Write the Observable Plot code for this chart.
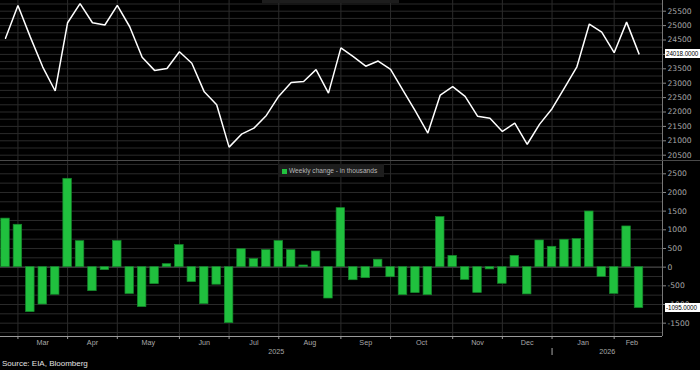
<!DOCTYPE html>
<html><head><meta charset="utf-8">
<script src="https://cdn.jsdelivr.net/npm/d3@7"></script>
<script src="https://cdn.jsdelivr.net/npm/@observablehq/plot@0.6"></script>
<style>
html,body{margin:0;padding:0;background:#000;}
#wrap{position:relative;width:700px;height:370px;background:#000;overflow:hidden;font-family:"Liberation Sans",Arial,sans-serif;}
#wrap svg{display:block;}
.sep{height:1px;background:#4a4a4a;}
.legend{position:absolute;left:278px;top:164px;width:106px;height:13px;background:#1d1d1d;color:#b8b8b8;font-size:6.6px;line-height:13px;white-space:nowrap;}
.legend i{position:absolute;left:4px;top:4.5px;width:5px;height:5px;background:#22c23f;}
.legend span{position:absolute;left:11px;top:0;}
.toplegend{position:absolute;left:262px;top:0;width:137px;height:3px;background:#1d1d1d;}
.vlabel{position:absolute;left:665px;height:9px;line-height:9px;width:35px;background:#fff;color:#000;font-size:6.3px;letter-spacing:-0.1px;text-align:left;padding-left:1px;box-sizing:border-box;white-space:nowrap;overflow:hidden;}
.vlabel:before{content:"";position:absolute;left:-3px;top:0;border-top:4.5px solid transparent;border-bottom:4.5px solid transparent;border-right:3px solid #fff;}
.vwrap{position:absolute;left:662px;height:9px;width:38px;}
.source{position:absolute;left:2px;top:359px;font-size:8px;color:#e2e2e2;}
</style></head>
<body><div id="wrap"></div>
<script>
// Weekly dates (Fridays)
const dates = [
 "2025-02-28","2025-03-07","2025-03-14","2025-03-21","2025-03-28",
 "2025-04-04","2025-04-11","2025-04-18","2025-04-25",
 "2025-05-02","2025-05-09","2025-05-16","2025-05-23","2025-05-30",
 "2025-06-06","2025-06-13","2025-06-20","2025-06-27",
 "2025-07-04","2025-07-11","2025-07-18","2025-07-25",
 "2025-08-01","2025-08-08","2025-08-15","2025-08-22","2025-08-29",
 "2025-09-05","2025-09-12","2025-09-19","2025-09-26",
 "2025-10-03","2025-10-10","2025-10-17","2025-10-24","2025-10-31",
 "2025-11-07","2025-11-14","2025-11-21","2025-11-28",
 "2025-12-05","2025-12-12","2025-12-19","2025-12-26",
 "2026-01-02","2026-01-09","2026-01-16","2026-01-23","2026-01-30",
 "2026-02-06","2026-02-13","2026-02-20"
];
// Level (thousands)
const levels = [
 24560,25700,24600,23560,22730,
 25100,25760,25100,25020,
 25700,24960,23900,23445,23510,
 24090,23695,22700,22250,
 20780,21230,21440,21880,
 22550,23025,23060,23470,22655,
 24225,23920,23590,23770,
 23480,22750,22030,21270,22590,
 22880,22540,21855,21780,
 21325,21615,20880,21580,
 22115,22840,23570,25055,24770,
 24060,25120,24018
];
// Weekly change (thousands)
const changes = [
 1300,1135,-1205,-1000,-740,
 2366,696,-643,-80,
 700,-720,-1070,-455,80,
 590,-400,-990,-470,
 -1500,480,215,455,
 700,455,45,420,-840,
 1580,-350,-295,200,
 -270,-750,-696,-750,1340,
 300,-340,-690,-60,
 -445,300,-730,714,
 545,733,750,1490,-260,
 -715,1090,-1095
];
const monthTicks = ["2025-03-07","2025-04-04","2025-05-02","2025-06-06","2025-07-04","2025-08-01",
 "2025-09-05","2025-10-03","2025-11-07","2025-12-05","2026-01-02","2026-02-06"];
const monthLabels = ["Mar","Apr","May","Jun","Jul","Aug","Sep","Oct","Nov","Dec","Jan","Feb"];
const topTicks = [20500,21000,21500,22000,22500,23000,23500,24000,24500,25000,25500];
const bottomTicks = [-1500,-1000,-500,0,500,1000,1500,2000,2500];
const yearLabels = ["2025","2026"];
const yearBreak = "2026-01-02";

const DAY = 864e5;
const P = s => new Date(s + "T00:00:00Z");
const rows = dates.map((d, i) => ({date: P(d), level: levels[i], change: changes[i]}));
const xStart = new Date(+P(dates[0]) - 2.82 * DAY);
const xEnd = new Date(+P(dates[dates.length - 1]) + 13.24 * DAY);
const tickDates = monthTicks.map(P);
const monthLabelData = monthLabels.map((m, i) => {
  const a = +tickDates[i];
  const b = i < tickDates.length - 1 ? +tickDates[i + 1] : a + 20 * DAY;
  return {date: new Date((a + b) / 2), label: m};
});
const yb = +P(yearBreak);
const yearData = [
  {date: new Date((+xStart + yb) / 2), label: yearLabels[0]},
  {date: new Date((yb + +xEnd) / 2), label: yearLabels[1]}
];

const axisFont = {fontFamily: "DejaVu Sans, sans-serif", fontSize: "7.6px"};
const gridColor = "#2b2b2b";

// Top panel
const topPx = 28.8 / 1000;
const topDomain = [25500 - (160 - 10.7) / topPx, 25500 + 10.7 / topPx];
const topPlot = Plot.plot({
  width: 700, height: 160,
  marginLeft: 0, marginRight: 38, marginTop: 0, marginBottom: 0,
  style: {background: "#000", color: "#a8a8a8", overflow: "visible", ...axisFont},
  x: {type: "utc", domain: [xStart, xEnd], axis: null},
  y: {domain: topDomain, axis: null},
  marks: [
    Plot.ruleY(d3.range(20500, 25751, 250), {stroke: gridColor, strokeWidth: 1}),
    Plot.ruleX(tickDates, {stroke: gridColor, strokeWidth: 1}),
    Plot.ruleX([xEnd], {stroke: "#777"}),
    Plot.axisY({anchor: "right", label: null, ticks: topTicks, tickSize: 3, tickPadding: 2, tickFormat: d => String(d), stroke: "#888", fill: "#a8a8a8"}),
    Plot.line(rows, {x: "date", y: "level", stroke: "#ffffff", strokeWidth: 1.5, strokeLinejoin: "miter"})
  ]
});

// Bottom panel
const botPx = 18.67 / 500;
const botTopY = 12.3;
const botFrame = 175;
const botDomain = [2500 - (botFrame - botTopY) / botPx, 2500 + botTopY / botPx];
const tickLen = 3 / botPx;
const botPlot = Plot.plot({
  width: 700, height: 197,
  marginLeft: 0, marginRight: 38, marginTop: 0, marginBottom: 22,
  style: {background: "#000", color: "#a8a8a8", overflow: "visible", ...axisFont},
  x: {type: "utc", domain: [xStart, xEnd], axis: null},
  y: {domain: botDomain, axis: null},
  marks: [
    Plot.ruleY(d3.range(-1750, 2751, 250), {stroke: gridColor, strokeWidth: 1}),
    Plot.ruleX(tickDates, {stroke: gridColor, strokeWidth: 1}),
    Plot.ruleY([0], {stroke: "#4a4a4a"}),
    Plot.rectY(rows, {
      x1: d => new Date(+d.date - 2.4 * DAY),
      x2: d => new Date(+d.date + 2.4 * DAY),
      y: "change", fill: "#20c03e", stroke: "#15862b", strokeWidth: 0.7
    }),
    Plot.ruleX([xEnd], {stroke: "#777"}),
    Plot.ruleY([botDomain[0]], {stroke: "#9a9a9a", strokeWidth: 1}),
    Plot.axisY({anchor: "right", label: null, ticks: bottomTicks, tickSize: 3, tickPadding: 2, tickFormat: d => String(d), stroke: "#888", fill: "#a8a8a8"}),
    Plot.ruleX(tickDates, {y1: botDomain[0], y2: botDomain[0] - tickLen, stroke: "#9a9a9a", strokeWidth: 1}),
    Plot.text(monthLabelData, {x: "date", text: "label", frameAnchor: "bottom", dy: 8, fill: "#a8a8a8", fontFamily: "Liberation Sans, sans-serif", fontSize: 7.2}),
    Plot.text(yearData, {x: "date", text: "label", frameAnchor: "bottom", dy: 17, fill: "#a8a8a8", fontFamily: "Liberation Sans, sans-serif", fontSize: 7.2}),
    Plot.ruleX([P(yearBreak)], {y1: botDomain[0] - 12 / botPx, y2: botDomain[0] - 19 / botPx, stroke: "#a8a8a8", strokeWidth: 1})
  ]
});

const wrap = document.getElementById("wrap");
wrap.appendChild(topPlot);
const sep = document.createElement("div"); sep.className = "sep"; wrap.appendChild(sep);
wrap.appendChild(botPlot);

const addDiv = (cls, html, styles) => {
  const d = document.createElement("div");
  d.className = cls; d.innerHTML = html;
  Object.assign(d.style, styles || {});
  wrap.appendChild(d);
  return d;
};
addDiv("toplegend", "");
addDiv("legend", "<i></i><span>Weekly change - in thousands</span>");
const lastLevel = levels[levels.length - 1];
const lastChange = changes[changes.length - 1];
addDiv("vlabel", lastLevel.toFixed(4), {top: (topPlot.scale("y").apply(lastLevel) - 4.5) + "px"});
addDiv("vlabel", lastChange.toFixed(4), {top: (161 + botPlot.scale("y").apply(lastChange) - 4.5) + "px"});
addDiv("source", "Source: EIA, Bloomberg");
</script>
</body></html>
